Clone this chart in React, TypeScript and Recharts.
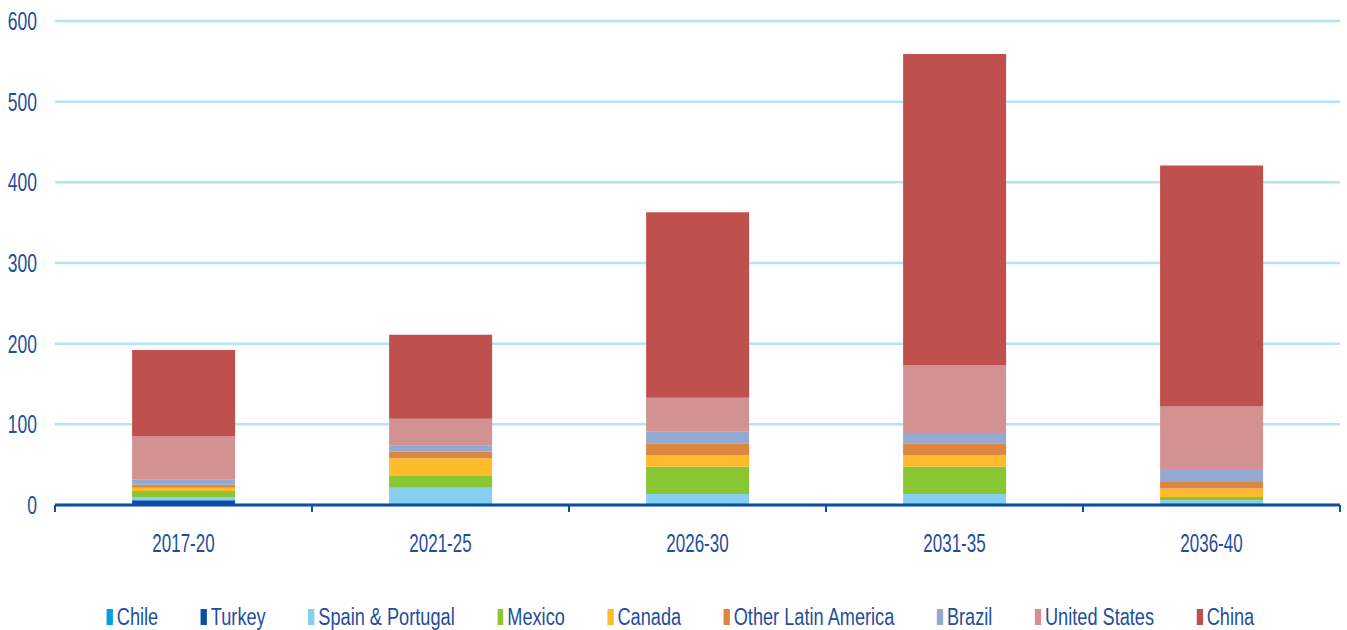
import React from 'react';
import { BarChart, Bar, XAxis, YAxis, CartesianGrid } from 'recharts';

const categories = ['2017-20', '2021-25', '2026-30', '2031-35', '2036-40'];
const chile = [1, 1, 1, 1, 1];
const turkey = [5, 1, 1, 1, 1];
const spainPortugal = [3.5, 19.5, 11.5, 11.5, 4];
const mexico = [8, 14.5, 34, 34, 4];
const canada = [4, 22, 14.5, 14.5, 10.5];
const otherLatAm = [3.5, 8, 14.5, 14.5, 8];
const brazil = [7, 7.5, 15, 11.5, 15];
const unitedStates = [53, 33.5, 41.5, 85.5, 78.5];
const china = [107, 104, 230, 385.5, 299];
const yTicks = [0, 100, 200, 300, 400, 500, 600];

const series = [
  { key: 'chile', name: 'Chile', values: chile, color: '#00a0e3' },
  { key: 'turkey', name: 'Turkey', values: turkey, color: '#0c4ea6' },
  { key: 'spain', name: 'Spain & Portugal', values: spainPortugal, color: '#87cff1' },
  { key: 'mexico', name: 'Mexico', values: mexico, color: '#89c732' },
  { key: 'canada', name: 'Canada', values: canada, color: '#ffbb2b' },
  { key: 'otherLatAm', name: 'Other Latin America', values: otherLatAm, color: '#dc8640' },
  { key: 'brazil', name: 'Brazil', values: brazil, color: '#93a9d2' },
  { key: 'us', name: 'United States', values: unitedStates, color: '#d29291' },
  { key: 'china', name: 'China', values: china, color: '#c0504d' },
];

const data = categories.map((cat, i) => {
  const row: Record<string, string | number> = { period: cat };
  series.forEach((s) => {
    row[s.key] = s.values[i];
  });
  return row;
});

// no narrow font installed, so squeeze Liberation Sans horizontally
const FONT = "'Liberation Sans', Arial, sans-serif";
const TEXT = '#1f4e9c';
const AXIS = '#0d4fa6';
const WIDTH = 1347;
const HEIGHT = 630;
const MARGIN = { top: 21, right: 7, left: 0, bottom: 85 };
const Y_WIDTH = 55;
const HALF_BAND = (WIDTH - MARGIN.left - MARGIN.right - Y_WIDTH) / categories.length / 2;

function CategoryTick(props: any) {
  const { x, y, payload } = props;
  return (
    <g>
      <line x1={x - HALF_BAND} y1={y - 8} x2={x - HALF_BAND} y2={y - 1} stroke={AXIS} strokeWidth={2} />
      <line x1={x + HALF_BAND} y1={y - 8} x2={x + HALF_BAND} y2={y - 1} stroke={AXIS} strokeWidth={2} />
      <text
        transform={`translate(${x},${y + 38.5}) scale(0.68,1)`}
        textAnchor="middle"
        fill={TEXT}
        fontSize={25}
        fontFamily={FONT}
      >
        {payload.value}
      </text>
    </g>
  );
}

function ValueTick(props: any) {
  const { x, y, payload } = props;
  return (
    <text
      transform={`translate(${x},${y + 9}) scale(0.7,1)`}
      textAnchor="end"
      fill={TEXT}
      fontSize={25}
      fontFamily={FONT}
    >
      {payload.value}
    </text>
  );
}

export default function App() {
  return (
    <div style={{ position: 'absolute', left: 0, top: 0, width: WIDTH, height: HEIGHT, background: '#fff', overflow: 'hidden' }}>
      <BarChart width={WIDTH} height={HEIGHT} data={data} margin={MARGIN} barCategoryGap="30%">
        <CartesianGrid vertical={false} stroke="#b5e3f7" strokeWidth={2.5} />
        <XAxis
          dataKey="period"
          height={40}
          axisLine={{ stroke: AXIS, strokeWidth: 3 }}
          tickLine={false}
          tick={<CategoryTick />}
          interval={0}
        />
        <YAxis
          width={Y_WIDTH}
          domain={[0, 600]}
          ticks={yTicks}
          axisLine={false}
          tickLine={false}
          tickSize={0}
          tickMargin={18}
          tick={<ValueTick />}
        />
        {series.map((s) => (
          <Bar
            key={s.key}
            dataKey={s.key}
            name={s.name}
            stackId="a"
            fill={s.color}
            isAnimationActive={false}
          />
        ))}
      </BarChart>
      <div
        style={{
          position: 'absolute',
          left: 7,
          top: 604,
          width: WIDTH,
          display: 'flex',
          justifyContent: 'center',
          gap: 54,
          fontFamily: FONT,
          fontSize: 23,
          color: TEXT,
          lineHeight: '26px',
          whiteSpace: 'nowrap',
          transform: 'scaleX(0.79)',
          transformOrigin: '50% 50%',
        }}
      >
        {series.map((s) => (
          <div key={s.key} style={{ display: 'flex', alignItems: 'center' }}>
            <span style={{ display: 'inline-block', width: 7.6, height: 16, background: s.color, marginRight: 5 }} />
            <span>{s.name}</span>
          </div>
        ))}
      </div>
    </div>
  );
}
